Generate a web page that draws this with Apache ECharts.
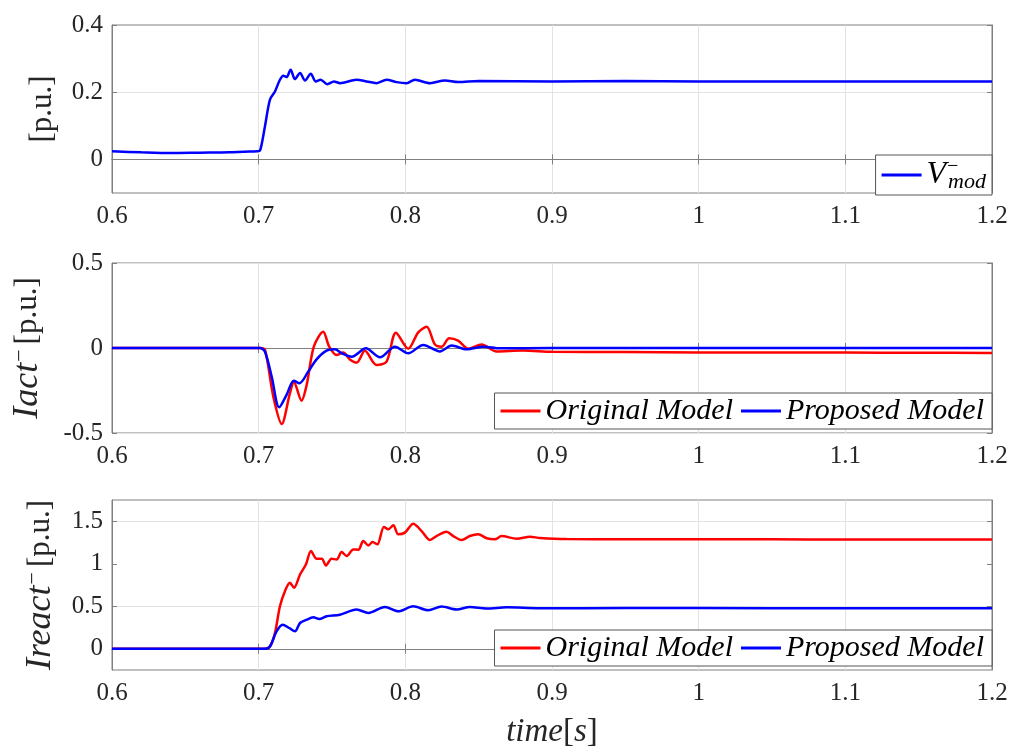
<!DOCTYPE html>
<html><head><meta charset="utf-8">
<script src="https://cdn.jsdelivr.net/npm/echarts@6/dist/echarts.min.js"></script>
<style>html,body{margin:0;padding:0;background:#fff}#c{width:1022px;height:752px}</style>
</head><body><div id="c"></div>
<script>
// ---- data ----
const vmodT = [0.6,0.62,0.64,0.66,0.68,0.69,0.699,0.7009,0.7043,0.7077,0.7111,0.7145,0.7168,0.719,0.7218,0.7247,0.7282,0.7316,0.7355,0.739,0.7422,0.7468,0.7513,0.7554,0.7667,0.7736,0.7804,0.7872,0.794,0.8009,0.8065,0.8168,0.827,0.836,0.85,0.9,0.95,1.0,1.05,1.1,1.15,1.2];
const vmodV = [0.024,0.021,0.019,0.020,0.021,0.023,0.024,0.026,0.099,0.178,0.202,0.237,0.249,0.245,0.267,0.239,0.257,0.235,0.255,0.232,0.237,0.224,0.232,0.227,0.237,0.232,0.227,0.237,0.230,0.227,0.237,0.227,0.235,0.230,0.233,0.232,0.233,0.232,0.232,0.232,0.232,0.232];

const iactPropT = [0.6,0.7,0.7009,0.7043,0.7089,0.714,0.719,0.724,0.7277,0.7338,0.7395,0.7463,0.752,0.7566,0.7634,0.7731,0.7827,0.7929,0.802,0.8122,0.8236,0.8316,0.8418,0.8531,0.8645,0.9,1.0,1.1,1.2];
const iactPropV = [0,0,0,-0.022,-0.169,-0.349,-0.276,-0.192,-0.208,-0.139,-0.067,-0.016,-0.008,-0.031,-0.051,-0.002,-0.055,0.008,-0.031,0.018,-0.02,0.014,-0.008,0.008,-0.002,0,0,0,0];

const iactOrigT = [0.6,0.7,0.7009,0.7043,0.71,0.7157,0.7213,0.724,0.7292,0.7327,0.7376,0.744,0.7481,0.7531,0.7576,0.7622,0.7668,0.7724,0.7804,0.7872,0.7936,0.802,0.8088,0.8145,0.8202,0.8247,0.8299,0.836,0.843,0.852,0.8622,0.88,0.9,0.95,1.0,1.05,1.1,1.15,1.2];
const iactOrigV = [0,0,0,-0.01,-0.286,-0.447,-0.267,-0.2,-0.31,-0.218,0.008,0.096,0.008,-0.041,-0.027,-0.067,-0.086,-0.016,-0.1,-0.08,0.09,-0.004,0.092,0.125,0.02,0.008,0.057,0.043,-0.004,0.02,-0.02,-0.015,-0.022,-0.024,-0.026,-0.026,-0.027,-0.028,-0.029];

const ireactOrigT = [0.6,0.7,0.7043,0.7077,0.7111,0.7145,0.7179,0.7213,0.7241,0.7282,0.7322,0.7357,0.7395,0.743,0.7459,0.7497,0.7531,0.7566,0.76,0.7645,0.768,0.7713,0.7748,0.7777,0.7809,0.7854,0.7884,0.7918,0.7952,0.7997,0.8054,0.8111,0.8168,0.8213,0.8281,0.8327,0.8384,0.844,0.8497,0.8554,0.8611,0.8656,0.8759,0.885,0.8918,0.91,0.95,1.0,1.05,1.1,1.15,1.2];
const ireactOrigV = [0,0,0,0.027,0.185,0.5,0.677,0.776,0.717,0.874,0.992,1.149,1.059,1.059,0.98,1.059,1.05,1.137,1.09,1.169,1.165,1.267,1.216,1.255,1.228,1.433,1.405,1.453,1.346,1.366,1.472,1.385,1.279,1.326,1.377,1.326,1.279,1.326,1.346,1.3,1.287,1.326,1.295,1.318,1.303,1.29,1.288,1.287,1.287,1.286,1.286,1.286];

const ireactPropT = [0.6,0.7,0.7043,0.7077,0.7122,0.7163,0.7209,0.7247,0.7282,0.7327,0.7372,0.7413,0.7463,0.7554,0.7668,0.7748,0.7861,0.7952,0.8054,0.8156,0.8247,0.835,0.844,0.8554,0.8691,0.8918,0.95,1.0,1.1,1.2];
const ireactPropV = [0,0,0,0.027,0.205,0.283,0.244,0.205,0.303,0.342,0.37,0.35,0.382,0.401,0.461,0.421,0.492,0.441,0.5,0.453,0.496,0.461,0.492,0.473,0.488,0.477,0.478,0.478,0.477,0.477];

const xTickVals = [0.6,0.7,0.8,0.9,1,1.1,1.2];
const xTickText = ['0.6','0.7','0.8','0.9','1','1.1','1.2'];
const yTopVals = [0,0.2,0.4];   const yTopText = ['0','0.2','0.4'];
const yMidVals = [-0.5,0,0.5];  const yMidText = ['-0.5','0','0.5'];
const yBotVals = [0,0.5,1,1.5]; const yBotText = ['0','0.5','1','1.5'];
const legendNames = ['Original Model','Proposed Model'];

// ---- chart ----
const FONT = 'Liberation Serif';
const AX = '#808080', GRIDC = '#e3e3e3', TXT = '#262626';
const zip = (t, v) => t.map((x, i) => [x, v[i]]);
const fmt = (vals, texts) => (value) => {
  for (let i = 0; i < vals.length; i++) if (Math.abs(value - vals[i]) < 1e-6) return '{t|' + texts[i] + '}';
  return '';
};
const grids = [
  {left:112, top:25, width:880, height:168},
  {left:112, top:263, width:880, height:170},
  {left:112, top:500, width:880, height:170}
].map(g => Object.assign(g, {show:true, borderColor:AX, borderWidth:1, backgroundColor:'#fff'}));

const tickRich = {t:{fontFamily:FONT, fontSize:25, color:TXT, fontStyle:'normal'}};
const xAxes = [], yAxes = [];
for (let g = 0; g < 3; g++) {
  const base = {type:'value', gridIndex:g, min:0.6, max:1.2, interval:0.1,
    axisLine:{show:true, lineStyle:{color:AX, width:1}},
    axisTick:{show:true, inside:true, length:5, lineStyle:{color:AX}}};
  xAxes.push(Object.assign({}, base, {position:'bottom',
    axisLabel:{show:true, margin:11, fontFamily:FONT, fontSize:25, color:TXT, formatter:fmt(xTickVals, xTickText), rich:tickRich},
    splitLine:{show:true, lineStyle:{color:GRIDC, width:1}}},
    g === 2 ? {name:'{i|time}{n|[}{i|s}{n|]}', nameLocation:'middle', nameGap:46,
      nameTextStyle:{rich:{i:{fontFamily:FONT, fontStyle:'italic', fontSize:33, color:TXT},
                            n:{fontFamily:FONT, fontSize:33, color:TXT}}}} : {}));
  xAxes.push(Object.assign({}, base, {position:'top', axisLabel:{show:false}, splitLine:{show:false}}));
}
const yCfg = [
  {min:-0.1, max:0.4, interval:0.1, vals:yTopVals, text:yTopText, colors:['rgba(0,0,0,0)', GRIDC],
   name:'{n|[p.u.]}', gap:54},
  {min:-0.5, max:0.5, interval:0.5, vals:yMidVals, text:yMidText, colors:[GRIDC],
   name:'{i|Iact}{s|−}{g| }{n|[p.u.]}', gap:65},
  {min:-0.25, max:1.75, interval:0.25, vals:yBotVals, text:yBotText, colors:['rgba(0,0,0,0)', GRIDC],
   name:'{i|Ireact}{s|−}{g| }{n|[p.u.]}', gap:52}
];
const nameRich = {
  i:{fontFamily:FONT, fontStyle:'italic', fontSize:36, color:TXT},
  s:{fontFamily:FONT, fontSize:22, color:TXT, verticalAlign:'top', padding:[0,0,16,1]},
  g:{fontFamily:FONT, fontSize:20, color:TXT},
  n:{fontFamily:FONT, fontSize:31, color:TXT}
};
yCfg.forEach((c, g) => {
  const base = {type:'value', gridIndex:g, min:c.min, max:c.max, interval:c.interval,
    axisLine:{show:true, lineStyle:{color:AX, width:1}},
    axisTick:{show:true, inside:true, length:5, lineStyle:{color:AX}, customValues:c.vals}};
  yAxes.push(Object.assign({}, base, {position:'left',
    axisLabel:{show:true, margin:9, fontFamily:FONT, fontSize:25, color:TXT, formatter:fmt(c.vals, c.text), rich:tickRich},
    splitLine:{show:true, lineStyle:{color:c.colors, width:1}},
    name:c.name, nameLocation:'middle', nameRotate:90, nameGap:c.gap,
    nameTextStyle:{rich:nameRich}}));
  yAxes.push(Object.assign({}, base, {position:'right', axisLabel:{show:false}, splitLine:{show:false}}));
});

const line = (name, color, xi, data) => ({
  name, type:'line', xAxisIndex:xi, yAxisIndex:xi, data, showSymbol:false, smooth:0.3,
  lineStyle:{color, width:2.5}, itemStyle:{color}, animation:false, z:3
});
const series = [
  line('Vmod', '#0000ff', 0, zip(vmodT, vmodV)),
  line('Original Model', '#ff0000', 2, zip(iactOrigT, iactOrigV)),
  line('Proposed Model', '#0000ff', 2, zip(iactPropT, iactPropV)),
  line('Original Model', '#ff0000', 4, zip(ireactOrigT, ireactOrigV)),
  line('Proposed Model', '#0000ff', 4, zip(ireactPropT, ireactPropV))
];

const legBase = {right:30, orient:'horizontal', icon:'rect', itemWidth:40, itemHeight:3, itemGap:8,
  borderColor:'#555', borderWidth:1, backgroundColor:'#fff', borderRadius:0, z:10,
  selectedMode:false,
  textStyle:{fontFamily:FONT, fontStyle:'italic', fontSize:30, color:'#000'}};
const legends = [
  Object.assign({}, legBase, {top:155, padding:[2,6,2,6], data:['Vmod'],
    formatter:() => '{v|V}{sup|−}{sub|mod}',
    textStyle:{fontFamily:FONT, fontStyle:'italic', fontSize:28, color:'#000',
      rich:{v:{fontFamily:FONT, fontStyle:'italic', fontSize:32, color:'#000'},
            sup:{fontFamily:FONT, fontSize:20, color:'#000', verticalAlign:'top', width:2, padding:[0,0,16,0]},
            sub:{fontFamily:FONT, fontStyle:'italic', fontSize:22, color:'#000', verticalAlign:'bottom', padding:[14,0,0,0]}}}}),
  Object.assign({}, legBase, {top:393, padding:[3,8,3,6], data:legendNames}),
  Object.assign({}, legBase, {top:630, padding:[3,8,3,6], data:legendNames})
];

const chart = echarts.init(document.getElementById('c'), null, {renderer:'canvas'});
chart.setOption({
  backgroundColor:'#fff', animation:false,
  textStyle:{fontFamily:FONT},
  grid:grids, xAxis:xAxes, yAxis:yAxes, legend:legends, series
});
</script></body></html>
